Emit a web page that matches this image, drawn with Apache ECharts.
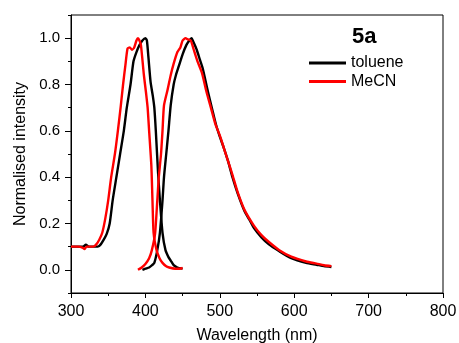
<!DOCTYPE html>
<html>
<head>
<meta charset="utf-8">
<script src="https://cdn.jsdelivr.net/npm/echarts@6/dist/echarts.min.js"></script>
<style>html,body{margin:0;padding:0;background:#fff;}#c{width:459px;height:343px;}</style>
</head>
<body>
<div id="c"></div>
<script>
// Wavelength (nm) and normalised intensity
var tolAbsX = [300,310,316,320,324,330,336,340,344,348,352,356,361,366,371,375,380,384,388,392,396,400,402,404,407,410,412,414,417,419.5,423,427,431,434,438,443,450];
var tolAbsY = [0.10,0.10,0.10,0.108,0.10,0.10,0.10,0.11,0.13,0.155,0.20,0.30,0.40,0.50,0.60,0.70,0.80,0.90,0.94,0.97,0.99,1.0,0.99,0.92,0.81,0.75,0.70,0.60,0.42,0.30,0.16,0.085,0.055,0.04,0.02,0.01,0.005];

var mecnAbsX = [300,310,316,318,321,330,334,338,342,346,350,354,359,363,367,370,373,376,379,382,385,388,390,392,394,398,401,403,405,408,409.5,411,415,419,423,428,432,440,446,450];
var mecnAbsY = [0.10,0.10,0.095,0.09,0.10,0.10,0.11,0.13,0.16,0.22,0.30,0.40,0.50,0.60,0.71,0.80,0.88,0.955,0.96,0.95,0.96,0.99,1.0,0.99,0.97,0.84,0.76,0.70,0.60,0.45,0.30,0.16,0.085,0.05,0.03,0.015,0.01,0.005,0.005,0.008];

var tolEmX = [396,400,405,409,412,416,419.5,423,425,428,431,434,438,441,445,450,455,459,462,465,469,473,477,484,490,495,500,505,511,517,524,533,540,546,556,566,580,596,616,630,640,650];
var tolEmY = [0.0,0.005,0.01,0.02,0.03,0.085,0.16,0.30,0.40,0.50,0.60,0.71,0.80,0.84,0.88,0.93,0.97,0.99,1.0,0.98,0.95,0.91,0.87,0.77,0.69,0.625,0.575,0.53,0.47,0.40,0.33,0.255,0.215,0.18,0.14,0.11,0.08,0.05,0.03,0.022,0.016,0.012];

var mecnEmX = [390,395,400,405,408.6,413,416,418,421,423,425,430,434,438,443,447,450,454,457,461,465,470,476,482,488,494,500,505,510,517,524,533,546,556,566,580,596,616,630,640,650];
var mecnEmY = [0.0,0.01,0.025,0.05,0.084,0.156,0.30,0.40,0.50,0.60,0.71,0.78,0.84,0.89,0.94,0.96,0.99,1.0,0.995,0.99,0.95,0.90,0.85,0.77,0.70,0.63,0.58,0.53,0.48,0.41,0.335,0.26,0.19,0.15,0.12,0.085,0.057,0.036,0.027,0.02,0.016];

var xTicks = [300,400,500,600,700,800];
var yLabels = [0.0,0.2,0.4,0.6,0.8,1.0];
var seriesNames = ['toluene','MeCN'];
var panelLabel = '5a';

function pairs(xs, ys){ return xs.map(function(x,i){ return [x, ys[i]]; }); }

var chart = echarts.init(document.getElementById('c'), null, {renderer:'canvas'});
var FONT = '"Liberation Sans", Arial, sans-serif';
var lineW = 2.4;
function lineSeries(name, color, data){
  return {name:name, type:'line', data:data, showSymbol:false, symbol:'none', smooth:0.2,
    lineStyle:{color:color, width:lineW}, itemStyle:{color:color}, animation:false, z:name==='MeCN'?3:2};
}
chart.setOption({
  animation:false,
  backgroundColor:'#fff',
  grid:{left:71, right:16, top:15, bottom:50, containLabel:false, outerBoundsMode:'none',
    show:true, borderColor:'#000', borderWidth:1, backgroundColor:'transparent'},
  title:{text:panelLabel, left:352, top:26, padding:0, textStyle:{fontFamily:FONT, fontSize:22, fontWeight:'bold', color:'#000'}},
  legend:{data:seriesNames, orient:'vertical', left:309, top:55, padding:0, itemWidth:37, itemHeight:3, itemGap:2.5, icon:'rect',
    textStyle:{fontFamily:FONT, fontSize:16, color:'#000', lineHeight:16, padding:[0,0,0,0]}},
  xAxis:{type:'value', min:xTicks[0], max:xTicks[xTicks.length-1], interval:100,
    name:'Wavelength (nm)', nameLocation:'middle', nameGap:35,
    nameTextStyle:{fontFamily:FONT, fontSize:16, color:'#000'},
    axisLine:{show:true, onZero:false, lineStyle:{color:'#000', width:1}},
    axisTick:{show:true, inside:false, length:5, lineStyle:{color:'#000'}},
    minorTick:{show:true, splitNumber:2, length:3, lineStyle:{color:'#000'}},
    splitLine:{show:false},
    axisLabel:{fontFamily:FONT, fontSize:16, color:'#000', margin:11}},
  yAxis:[{type:'value', min:-0.1, max:1.1, interval:0.1,
    name:'Normalised intensity', nameLocation:'middle', nameGap:42,
    nameTextStyle:{fontFamily:FONT, fontSize:16, color:'#000'},
    axisLine:{show:true, onZero:false, lineStyle:{color:'#000', width:1}},
    axisTick:{show:true, inside:false, length:3, lineStyle:{color:'#000'}},
    splitLine:{show:false},
    axisLabel:{fontFamily:FONT, fontSize:15, color:'#000', margin:11,
      showMinLabel:true, showMaxLabel:true,
      formatter:function(v){
        var k = Math.round(v*10);
        for (var i=0;i<yLabels.length;i++){ if (Math.round(yLabels[i]*10)===k) return yLabels[i].toFixed(1); }
        return '';
      }}},
    {type:'value', min:-0.1, max:1.1, position:'left',
    axisLine:{show:false}, splitLine:{show:false}, axisLabel:{show:false},
    axisTick:{show:true, inside:false, length:6, customValues:yLabels, lineStyle:{color:'#000'}}}],
  series:[
    lineSeries('toluene','#000000',pairs(tolAbsX,tolAbsY)),
    lineSeries('toluene','#000000',pairs(tolEmX,tolEmY)),
    lineSeries('MeCN','#ff0000',pairs(mecnAbsX,mecnAbsY)),
    lineSeries('MeCN','#ff0000',pairs(mecnEmX,mecnEmY))
  ]
});
</script>
</body>
</html>
